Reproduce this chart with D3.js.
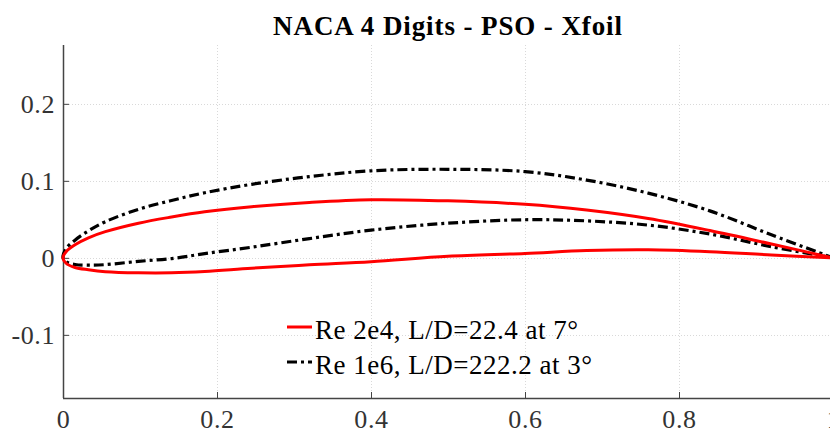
<!DOCTYPE html>
<html>
<head>
<meta charset="utf-8">
<script src="https://cdn.jsdelivr.net/npm/d3@7"></script>
<style>
body { margin: 0; background: #fff; }
svg { display: block; font-family: "Liberation Serif", "Times New Roman", serif; }
</style>
</head>
<body>
<svg id="chart" width="830" height="432"></svg>
<script>
// airfoil coordinates (x/c, y/c)
var redUpper = [
	[0, 0], [0.004, 0.008], [0.0156, 0.017], [0.033, 0.026], [0.055, 0.034],
	[0.098, 0.045], [0.141, 0.053], [0.184, 0.0598], [0.245, 0.0665], [0.32, 0.072],
	[0.40, 0.0755], [0.50, 0.074], [0.60, 0.0695], [0.68, 0.062], [0.76, 0.051],
	[0.84, 0.0355], [0.92, 0.018], [1.0, 0]
];
var redLower = [
	[0, 0], [0.004, -0.007], [0.0156, -0.0125], [0.033, -0.0155], [0.055, -0.018],
	[0.098, -0.0195], [0.141, -0.0195], [0.184, -0.0178], [0.245, -0.0135], [0.32, -0.009],
	[0.40, -0.005], [0.50, 0.002], [0.60, 0.0057], [0.68, 0.0095], [0.76, 0.0105],
	[0.84, 0.008], [0.92, 0.0037], [1.0, 0]
];
var blackUpper = [
	[0, 0], [0.004, 0.012], [0.0156, 0.023], [0.033, 0.035], [0.055, 0.047],
	[0.098, 0.063], [0.141, 0.0745], [0.184, 0.0845], [0.245, 0.0955], [0.32, 0.1055],
	[0.40, 0.113], [0.50, 0.115], [0.60, 0.112], [0.68, 0.101], [0.76, 0.084],
	[0.84, 0.061], [0.92, 0.030], [1.0, 0]
];
var blackLower = [
	[0, 0], [0.004, -0.005], [0.0156, -0.0086], [0.033, -0.0095], [0.055, -0.0088],
	[0.098, -0.0045], [0.141, -0.001], [0.184, 0.0055], [0.245, 0.0138], [0.32, 0.025],
	[0.40, 0.036], [0.50, 0.045], [0.60, 0.0495], [0.68, 0.048], [0.76, 0.0425],
	[0.84, 0.031], [0.92, 0.0145], [1.0, 0]
];

var xTicks = [0, 0.2, 0.4, 0.6, 0.8, 1];
var yTicks = [-0.1, 0, 0.1, 0.2];
var xTickLabels = ["0", "0.2", "0.4", "0.6", "0.8", "1"];
var yTickLabels = ["-0.1", "0", "0.1", "0.2"];

var legendLabels = ["Re 2e4, L/D=22.4 at 7\u00b0", "Re 1e6, L/D=222.2 at 3\u00b0"];
var chartTitle = "NACA 4 Digits - PSO - Xfoil";

var svg = d3.select("#chart");
var pLeft = 63, pRight = 833, pTop = 45, pBottom = 398;
var dashDot = "10,4,3,4";

var x = d3.scaleLinear().domain([0, 1]).range([pLeft, pRight]);
var y = d3.scaleLinear().domain([-0.182, 0.2764]).range([pBottom, pTop]);

// grid
var grid = svg.append("g").attr("class", "grid")
	.attr("stroke", "#d9d9d9")
	.attr("stroke-width", 1)
	.attr("stroke-dasharray", "1,2");
grid.selectAll(".gx").data(xTicks.slice(1)).enter().append("line")
	.attr("x1", function(d) { return Math.round(x(d)) + 0.5; })
	.attr("x2", function(d) { return Math.round(x(d)) + 0.5; })
	.attr("y1", pTop).attr("y2", pBottom);
grid.selectAll(".gy").data(yTicks).enter().append("line")
	.attr("y1", function(d) { return Math.round(y(d)) + 0.5; })
	.attr("y2", function(d) { return Math.round(y(d)) + 0.5; })
	.attr("x1", pLeft).attr("x2", pRight);

// axes (ticks pointing inward, no box)
var xAxis = d3.axisBottom(x).tickValues(xTicks)
	.tickFormat(function(d, i) { return xTickLabels[i]; })
	.tickSizeInner(-6).tickSizeOuter(0).tickPadding(12);
var yAxis = d3.axisLeft(y).tickValues(yTicks)
	.tickFormat(function(d, i) { return yTickLabels[i]; })
	.tickSizeInner(-6).tickSizeOuter(0).tickPadding(8);

var gx = svg.append("g").attr("transform", "translate(0," + pBottom + ")").call(xAxis);
var gy = svg.append("g").attr("transform", "translate(" + pLeft + ",0)").call(yAxis);

[gx, gy].forEach(function(g) {
	g.select(".domain").attr("stroke", "#444").attr("stroke-width", 1.5);
	g.selectAll(".tick line").attr("stroke", "#444").attr("stroke-width", 1);
	g.selectAll(".tick text")
		.attr("fill", "#333")
		.style("font-family", "Liberation Serif, serif")
		.style("font-size", "26px")
		.style("letter-spacing", "0.6px");
});
gy.select(".domain").attr("d", "M0.5," + pTop + "V" + pBottom);
gx.select(".domain").attr("d", "M" + pLeft + ",0.5H" + pRight);
gy.selectAll(".tick text").attr("dy", "0.34em");
gx.selectAll(".tick text").attr("dy", "0.71em");

// curves: each airfoil drawn as one loop TE -> lower -> LE -> upper -> TE
var line = d3.line()
	.x(function(d) { return x(d[0]); })
	.y(function(d) { return y(d[1]); })
	.curve(d3.curveCatmullRom.alpha(0.5));

function loop(upper, lower) {
	return lower.slice().reverse().concat(upper.slice(1));
}

var curves = [
	{ data: loop(blackUpper, blackLower), color: "#000", dash: dashDot, w: 3.2 },
	{ data: loop(redUpper, redLower), color: "#ff0000", dash: null, w: 3 }
];
svg.append("g").selectAll("path").data(curves).enter().append("path")
	.attr("d", function(d) { return line(d.data); })
	.attr("fill", "none")
	.attr("stroke", function(d) { return d.color; })
	.attr("stroke-width", function(d) { return d.w; })
	.attr("stroke-dasharray", function(d) { return d.dash; });

// legend
var legend = svg.append("g").attr("transform", "translate(287,0)");
var legendItems = [
	{ label: legendLabels[0], color: "#ff0000", dash: null, yy: 327 },
	{ label: legendLabels[1], color: "#000", dash: dashDot, yy: 362 }
];
legendItems.forEach(function(it) {
	legend.append("line")
		.attr("x1", 0).attr("x2", 25)
		.attr("y1", it.yy).attr("y2", it.yy)
		.attr("stroke", it.color)
		.attr("stroke-width", 3)
		.attr("stroke-dasharray", it.dash);
	legend.append("text")
		.attr("x", 28).attr("y", it.yy + 12)
		.attr("fill", "#000")
		.style("font-size", "27px")
		.style("letter-spacing", "0.5px")
		.text(it.label);
});

// title
svg.append("text")
	.attr("x", (pLeft + pRight) / 2)
	.attr("y", 35)
	.attr("text-anchor", "middle")
	.style("font-weight", "bold")
	.style("font-size", "27px")
	.style("letter-spacing", "0.9px")
	.text(chartTitle);
</script>
</body>
</html>
